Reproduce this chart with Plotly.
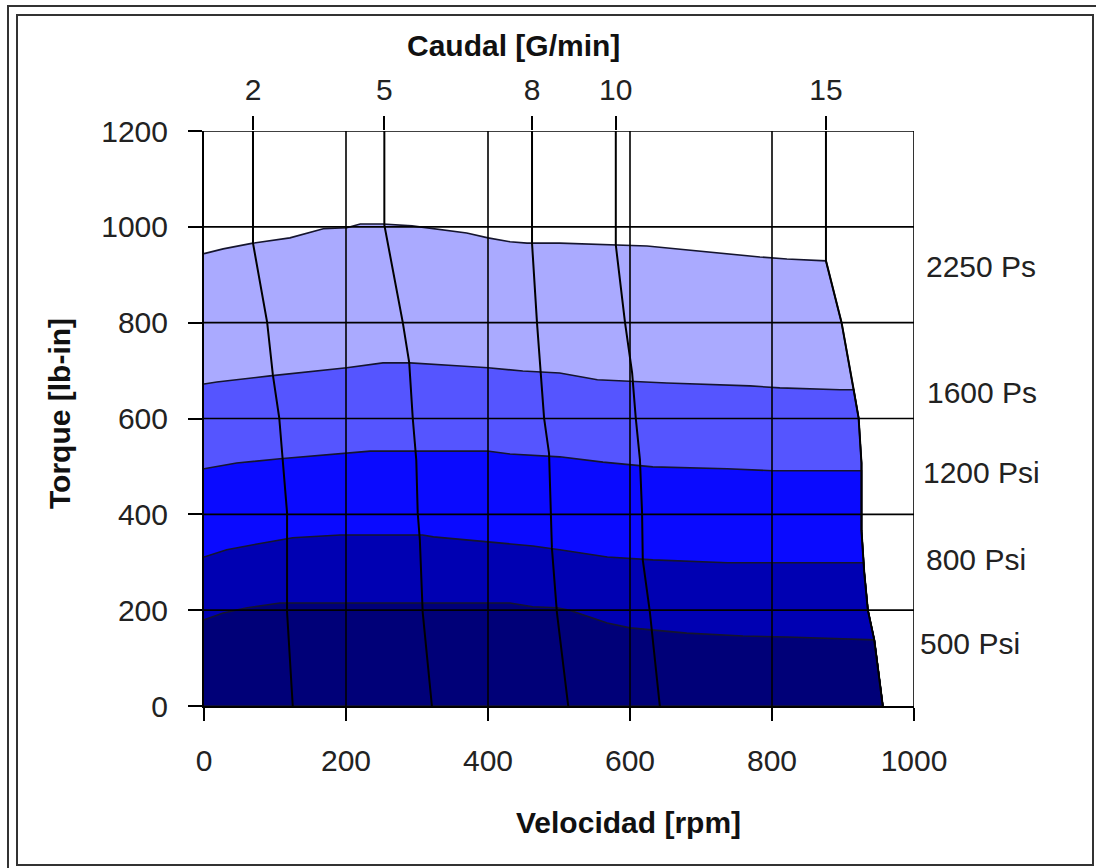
import plotly.graph_objects as go

# ---------------- data ----------------
speed_ticks = [0, 200, 400, 600, 800, 1000]
torque_ticks = [0, 200, 400, 600, 800, 1000, 1200]

# pressure curves (speed rpm, torque lb-in)
p2250_x = [0, 27, 69, 121, 168, 201, 220, 252, 293, 323, 370, 400, 431, 455, 501, 624, 689, 737, 783, 821, 876]
p2250_y = [944, 954, 966, 977, 996, 998, 1006, 1006, 1002, 996, 987, 977, 969, 966, 966, 960, 950, 944, 937, 933, 929]
p1600_x = [0, 18, 93, 145, 201, 252, 290, 356, 400, 449, 501, 554, 618, 652, 769, 811, 896, 915]
p1600_y = [672, 676, 689, 697, 706, 716, 716, 710, 706, 699, 695, 681, 676, 674, 668, 664, 660, 660]
p1200_x = [0, 46, 107, 201, 234, 399, 431, 501, 562, 632, 737, 801, 926]
p1200_y = [495, 507, 516, 528, 532, 532, 526, 520, 509, 499, 495, 491, 491]
p800_x = [0, 32, 75, 125, 192, 308, 323, 370, 413, 463, 501, 568, 632, 737, 929]
p800_y = [311, 326, 338, 351, 357, 357, 353, 347, 340, 334, 326, 311, 305, 299, 299]
p500_x = [0, 27, 61, 107, 431, 463, 497, 515, 568, 600, 680, 759, 821, 944]
p500_y = [180, 194, 205, 215, 215, 207, 205, 200, 173, 163, 152, 146, 144, 138]

pressure_labels = ["2250 Ps", "1600 Ps", "1200 Psi", "800 Psi", "500 Psi"]
band_colors = ["#AAAAFF", "#5555FF", "#0A0AFF", "#0000B2", "#000078"]

# flow (caudal) lines
f2_x = [69, 69, 89, 97, 106, 111, 117, 117, 125]
f2_y = [1200, 966, 800, 691, 601, 513, 403, 196, 0]
f5_x = [254, 254, 280, 289, 294, 299, 301, 304, 308, 321]
f5_y = [1200, 1004, 800, 717, 601, 513, 403, 347, 196, 0]
f8_x = [462, 462, 469, 479, 486, 489, 490, 497, 513]
f8_y = [1200, 966, 800, 601, 527, 403, 330, 196, 0]
f10_x = [580, 580, 593, 599, 603, 608, 614, 617, 618, 628, 642]
f10_y = [1200, 962, 800, 737, 695, 603, 514, 403, 305, 196, 0]
f15_x = [876, 876, 898, 906, 915, 922, 926, 926, 930, 935, 944, 949, 956]
f15_y = [1200, 929, 800, 737, 660, 601, 507, 367, 277, 200, 138, 81, 0]
flow_labels = ["2", "5", "8", "10", "15"]

# ---------------- figure ----------------
W, H = 1096, 868
L, R, T, B = 204, 182, 131, 162
PW, PH = W - L - R, H - T - B


def px2paper(px, py):
    return (px - L) / PW, (H - B - py) / PH


curves = [(p2250_x, p2250_y), (p1600_x, p1600_y), (p1200_x, p1200_y),
          (p800_x, p800_y), (p500_x, p500_y)]
flows = [(f2_x, f2_y), (f5_x, f5_y), (f8_x, f8_y), (f10_x, f10_y), (f15_x, f15_y)]

fig = go.Figure()

for (cx, cy), col, name in zip(curves, band_colors, pressure_labels):
    xs, ys = list(cx), list(cy)
    for bx, by in zip(f15_x, f15_y):
        if by < cy[-1]:
            xs.append(bx)
            ys.append(by)
    xs.append(0)
    ys.append(0)
    fig.add_trace(go.Scatter(x=xs, y=ys, fill="toself", fillcolor=col, mode="lines",
                             line=dict(color="#15152e", width=1.6), name=name,
                             showlegend=False, hoverinfo="skip"))

for (fx, fy), name in zip(flows, flow_labels):
    fig.add_trace(go.Scatter(x=fx, y=fy, mode="lines", xaxis="x2",
                             line=dict(color="black", width=2), name=name,
                             showlegend=False))

shapes = []
for v in speed_ticks[1:]:
    shapes.append(dict(type="line", xref="x", yref="y", x0=v, x1=v,
                       y0=torque_ticks[0], y1=torque_ticks[-1], layer="above",
                       line=dict(color="black", width=1.6)))
for h in torque_ticks[1:]:
    shapes.append(dict(type="line", xref="x", yref="y", y0=h, y1=h,
                       x0=speed_ticks[0], x1=speed_ticks[-1], layer="above",
                       line=dict(color="black", width=1.6)))

# chart frame (double border)
for (a, b, c, d) in [(8, 6, 1101, 874), (17, 15, 1093, 865)]:
    x0, y1 = px2paper(a, b)
    x1, y0 = px2paper(c, d)
    shapes.append(dict(type="rect", xref="paper", yref="paper", x0=x0, x1=x1,
                       y0=y0, y1=y1, line=dict(color="#333333", width=2)))

tick_font = dict(family="Liberation Sans, Arial, sans-serif", size=30, color="#222222")
title_font = dict(family="Liberation Sans, Arial, sans-serif", size=30, color="#111111")

annotations = []
ax, ay = px2paper(513, 45)
annotations.append(dict(text="<b>Caudal [G/min]</b>", x=ax, y=ay, xref="paper", yref="paper",
                        showarrow=False, font=title_font, xanchor="center", yanchor="middle"))
ax, ay = px2paper(628, 822)
annotations.append(dict(text="<b>Velocidad [rpm]</b>", x=ax, y=ay, xref="paper", yref="paper",
                        showarrow=False, font=title_font, xanchor="center", yanchor="middle"))
ax, ay = px2paper(59, 414)
annotations.append(dict(text="<b>Torque [lb-in]</b>", x=ax, y=ay, xref="paper", yref="paper",
                        showarrow=False, font=title_font, textangle=-90,
                        xanchor="center", yanchor="middle"))
label_pos = [(924, 266), (925, 392), (921, 472), (924, 559), (918, 643)]
for txt, (lx, ly) in zip(pressure_labels, label_pos):
    ax, ay = px2paper(lx, ly)
    annotations.append(dict(text=txt, x=ax, y=ay, xref="paper", yref="paper",
                            showarrow=False, font=tick_font, xanchor="left", yanchor="middle"))

fig.update_layout(
    width=W, height=H,
    margin=dict(l=L, r=R, t=T, b=B, pad=0),
    paper_bgcolor="white", plot_bgcolor="white",
    showlegend=False,
    xaxis=dict(range=[speed_ticks[0], speed_ticks[-1]], tickvals=speed_ticks,
               showgrid=False, zeroline=False, showline=True, linecolor="black", linewidth=2,
               ticks="outside", ticklen=13, tickwidth=2, tickcolor="black",
               tickfont=tick_font, ticklabelstandoff=14, layer="above traces"),
    xaxis2=dict(range=[speed_ticks[0], speed_ticks[-1]], overlaying="x", side="top",
                anchor="y", tickvals=[fx[0] for fx, fy in flows], ticktext=flow_labels,
                showgrid=False, zeroline=False, showline=False,
                ticks="outside", ticklen=14, tickwidth=2, tickcolor="black",
                tickfont=tick_font, ticklabelstandoff=4, layer="above traces"),
    yaxis=dict(range=[torque_ticks[0], torque_ticks[-1]], tickvals=torque_ticks,
               showgrid=False, zeroline=False, showline=True, linecolor="black", linewidth=2,
               ticks="outside", ticklen=14, tickwidth=2, tickcolor="black",
               tickfont=tick_font, ticklabelstandoff=14, layer="above traces"),
    shapes=shapes,
    annotations=annotations,
)

fig.write_html("out.html", config={"displayModeBar": False},
               post_script="document.body.style.margin='0';document.body.style.overflow='hidden';")
